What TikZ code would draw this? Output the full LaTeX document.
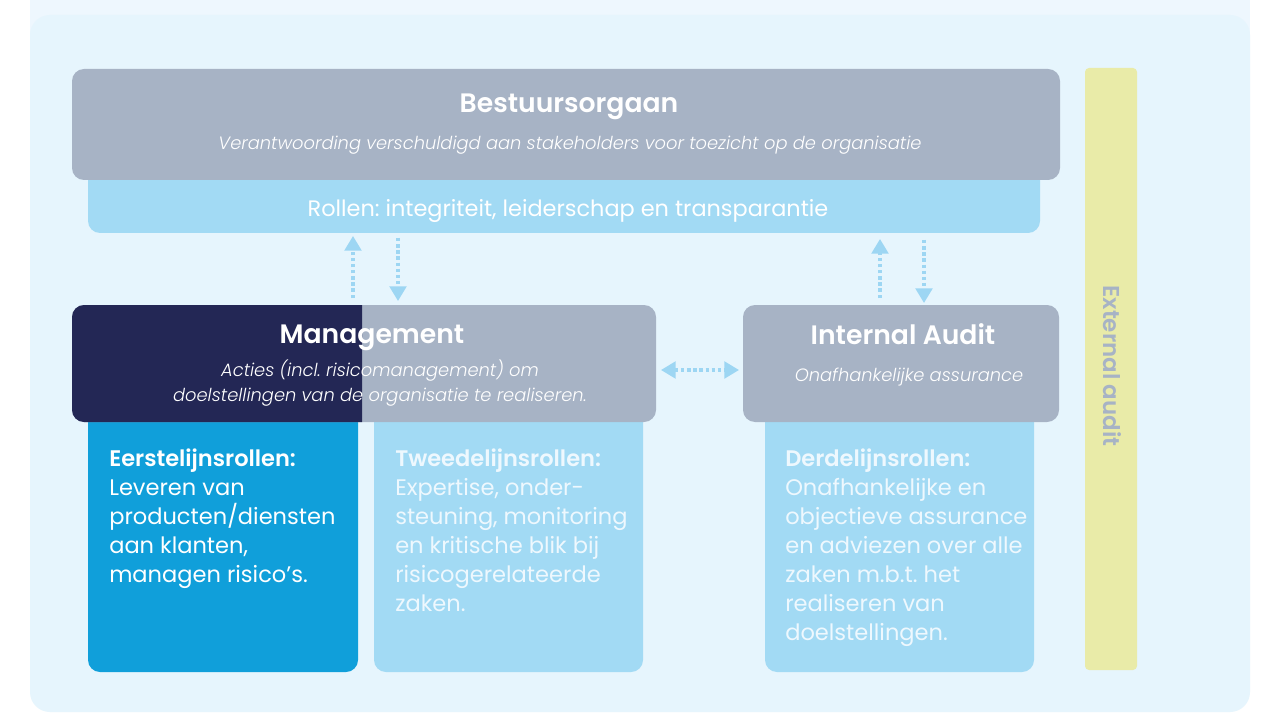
\documentclass[tikz,border=0pt]{standalone}
\usepackage{fontspec}
\setmainfont{Poppins}[BoldFont={Poppins SemiBold}, ItalicFont={Poppins Light Italic}, BoldItalicFont={Poppins SemiBold Italic}]
\frenchspacing
\usetikzlibrary{arrows.meta}
\definecolor{toplight}{HTML}{EEF7FE}
\definecolor{panel}{HTML}{E6F5FD}
\definecolor{grayb}{HTML}{A7B3C5}
\definecolor{navy}{HTML}{232755}
\definecolor{lblue}{HTML}{A2DAF4}
\definecolor{dblue}{HTML}{109FDA}
\definecolor{yell}{HTML}{E9EBA8}
\definecolor{arrowc}{HTML}{9DD6F3}
\definecolor{paletext}{HTML}{EEF8FE}
\tikzset{
  shapebox/.style={inner sep=0pt, outer sep=0pt, anchor=north west, rounded corners=9pt},
  ttl/.style={font=\fontsize{20}{24}\selectfont\bfseries, text=white, inner sep=0pt},
  sub/.style={font=\fontsize{13.4}{18.75}\selectfont\itshape, text=white, inner sep=0pt, align=center},
  body/.style={font=\fontsize{16.9}{21.75}\selectfont, inner sep=0pt, anchor=north west, align=left},
  arr/.style={arrowc, line width=2.4pt, dash pattern=on 2.6pt off 2pt, -{Triangle[width=12.5pt,length=11pt]}},
  darr/.style={arrowc, line width=2.4pt, dash pattern=on 2.6pt off 2pt, {Triangle[width=12.5pt,length=11pt]}-{Triangle[width=12.5pt,length=11pt]}}
}
\begin{document}
\begin{tikzpicture}[x=0.75pt,y=-0.75pt]
\useasboundingbox (0,0) rectangle (1280,720);
\fill[white] (0,0) rectangle (1280,720);
\fill[toplight] (30,0) rectangle (1250,303);
\fill[panel, rounded corners=15pt] (30,15) rectangle (1250,712);

% External audit bar
\fill[yell, rounded corners=3pt] (1085,68) rectangle (1137,670);
\node[font=\fontsize{17.2}{19}\selectfont\bfseries, text=grayb, rotate=-90, inner sep=0pt] (ext) at (1112,366) {External audit};

% Rollen bar
\fill[lblue, rounded corners=9pt] (88,160) rectangle (1040,233);
\node[font=\fontsize{16.8}{19}\selectfont, text=white, inner sep=0pt] (rol) at (568,211) {Rollen: integriteit, leiderschap en transparantie};

% Bestuursorgaan
\node[shapebox, fill=grayb, minimum width=988*0.75pt, minimum height=111*0.75pt] (bo) at (72,69) {};
\node[ttl] (bot) at (569,107) {Bestuursorgaan};
\node[sub] (bos) at (570,145) {Verantwoording verschuldigd aan stakeholders voor toezicht op de organisatie};

% lower boxes
\fill[dblue, rounded corners=9pt] (88,400) rectangle (358,672);
\fill[lblue, rounded corners=9pt] (374,400) rectangle (643,672);
\fill[lblue, rounded corners=9pt] (765,400) rectangle (1034,672);

% Management
\node[shapebox, fill=grayb, minimum width=584*0.75pt, minimum height=117*0.75pt] (mg) at (72,305) {};
\begin{scope}
\clip (72,300) rectangle (362,425);
\fill[navy, rounded corners=9pt] (72,305) rectangle (656,422);
\end{scope}
\node[ttl] (mgt) at (372,338) {Management};
\node[sub] (mgs) at (380,383) {Acties (incl. risicomanagement) om\\doelstellingen van de organisatie te realiseren.};

% Internal Audit
\node[shapebox, fill=grayb, minimum width=316*0.75pt, minimum height=117*0.75pt] (ia) at (743,305) {};
\node[ttl] (iat) at (903,334) {Internal Audit};
\node[sub] (ias) at (909,377) {Onafhankelijke assurance};

% body texts
\node[body, text=white] (t1) at (109,449) {\textbf{Eerstelijnsrollen:}\\Leveren van\\producten/diensten\\aan klanten,\\managen risico’s.};
\node[body, text=paletext] (t2) at (395,449) {\textbf{Tweedelijnsrollen:}\\Expertise, onder-\\steuning, monitoring\\en kritische blik bij\\risicogerelateerde\\zaken.};
\node[body, text=paletext] (t3) at (785,449) {\textbf{Derdelijnsrollen:}\\Onafhankelijke en\\objectieve assurance\\en adviezen over alle\\zaken m.b.t. het\\realiseren van\\doelstellingen.};

% arrows
\coordinate (a1s) at (353,298); \coordinate (a1e) at (353,236);
\coordinate (a2s) at (398,238); \coordinate (a2e) at (398,301);
\coordinate (a3s) at (880,298); \coordinate (a3e) at (880,239);
\coordinate (a4s) at (924,240); \coordinate (a4e) at (924,303);
\coordinate (hs) at (661,370); \coordinate (he) at (739,370);
\draw[arr] (a1s) -- (a1e);
\draw[arr] (a2s) -- (a2e);
\draw[arr] (a3s) -- (a3e);
\draw[arr] (a4s) -- (a4e);
\draw[darr] (hs) -- (he);
\end{tikzpicture}
\end{document}
